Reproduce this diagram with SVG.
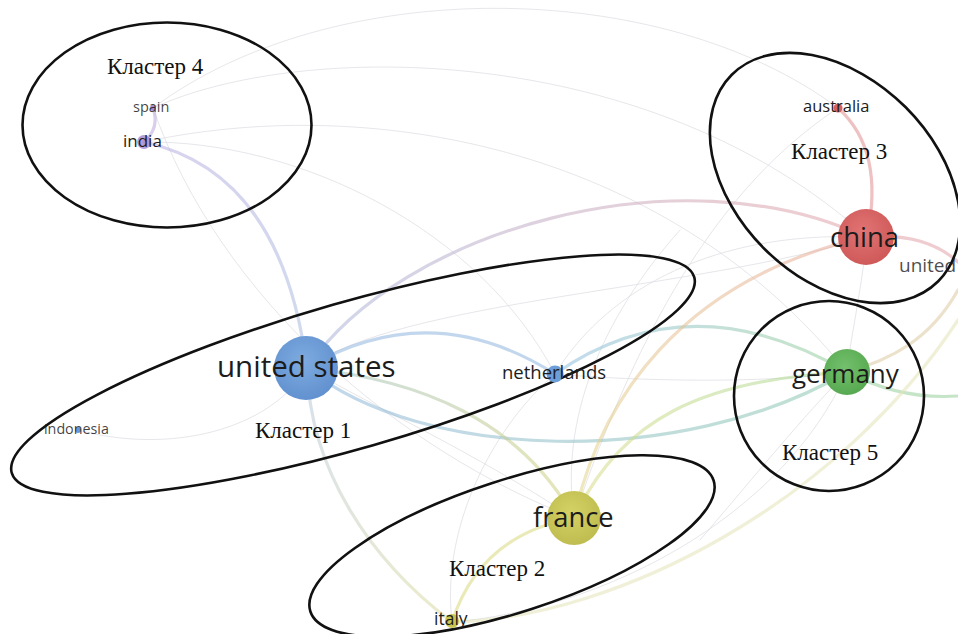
<svg xmlns="http://www.w3.org/2000/svg" width="958" height="634" viewBox="0 0 958 634">
<style>
.bg{fill:#ffffff}
.cl{fill:none;stroke:#111;stroke-width:2.6}
.ct{font-family:"Liberation Serif","Times New Roman",serif;font-size:23px;fill:#111}
.lb{font-family:"Open Sans","Liberation Sans",sans-serif;fill:#1c1c1c}
.e{fill:none;stroke-linecap:round}
.f{stroke:#d8d8e0;stroke-width:1;opacity:0.65}
.t{stroke-width:3.2;opacity:0.55}
</style>
<defs>
<linearGradient id="gUsCn" gradientUnits="userSpaceOnUse" x1="307" y1="368" x2="865" y2="237">
<stop offset="0" stop-color="#a9b4dc"/><stop offset="1" stop-color="#e2a3a8"/>
</linearGradient>
<linearGradient id="gUsDe" gradientUnits="userSpaceOnUse" x1="307" y1="368" x2="847" y2="372">
<stop offset="0" stop-color="#8fb6dc"/><stop offset="1" stop-color="#8cc7ae"/>
</linearGradient>
<linearGradient id="gNlDe" gradientUnits="userSpaceOnUse" x1="555" y1="374" x2="847" y2="372">
<stop offset="0" stop-color="#8fbde0"/><stop offset="1" stop-color="#98cf9a"/>
</linearGradient>
<linearGradient id="gUsFr" gradientUnits="userSpaceOnUse" x1="307" y1="368" x2="574" y2="518">
<stop offset="0" stop-color="#9fc0c0"/><stop offset="1" stop-color="#d3d27a"/>
</linearGradient>
<linearGradient id="gFrCn" gradientUnits="userSpaceOnUse" x1="574" y1="518" x2="865" y2="237">
<stop offset="0" stop-color="#e2d889"/><stop offset="1" stop-color="#e8a99a"/>
</linearGradient>
<linearGradient id="gFrDe" gradientUnits="userSpaceOnUse" x1="574" y1="518" x2="847" y2="372">
<stop offset="0" stop-color="#dcdc86"/><stop offset="1" stop-color="#a8d895"/>
</linearGradient>
<linearGradient id="gInUs" gradientUnits="userSpaceOnUse" x1="144" y1="142" x2="307" y2="368">
<stop offset="0" stop-color="#b8aee0"/><stop offset="1" stop-color="#a9bde0"/>
</linearGradient>
<linearGradient id="gUsIt" gradientUnits="userSpaceOnUse" x1="307" y1="368" x2="452" y2="622">
<stop offset="0" stop-color="#b5c7e0"/><stop offset="1" stop-color="#dcdca0"/>
</linearGradient>
<radialGradient id="nUs" cx="0.45" cy="0.4" r="0.6"><stop offset="0" stop-color="#7eabe0"/><stop offset="1" stop-color="#6191cf"/></radialGradient>
<radialGradient id="nCn" cx="0.45" cy="0.4" r="0.6"><stop offset="0" stop-color="#e27474"/><stop offset="1" stop-color="#cf5959"/></radialGradient>
<radialGradient id="nFr" cx="0.45" cy="0.4" r="0.6"><stop offset="0" stop-color="#d4d265"/><stop offset="1" stop-color="#bfbd4f"/></radialGradient>
<radialGradient id="nDe" cx="0.45" cy="0.4" r="0.6"><stop offset="0" stop-color="#74c06c"/><stop offset="1" stop-color="#57a951"/></radialGradient>
</defs>
<rect class="bg" x="0" y="0" width="958" height="634"/>

<g id="connectors">
  <!-- faint edges -->
  <path class="e f" d="M153,108 C330,-25 660,-25 838,108"/>
  <path class="e f" d="M153,108 C300,40 650,40 867,237"/>
  <path class="e f" d="M144,142 C360,95 660,140 847,372"/>
  <path class="e f" d="M144,142 C300,140 480,230 555,374"/>
  <path class="e f" d="M153,108 C220,300 400,450 574,518"/>
  <path class="e f" d="M78,430 C170,455 270,430 307,368"/>
  <path class="e f" d="M555,374 C600,300 700,230 867,237"/>
  <path class="e f" d="M307,368 C400,300 700,290 867,237"/>
  <path class="e f" d="M574,518 C560,420 600,320 680,230"/>
  <path class="e f" d="M452,622 C440,520 500,420 555,374"/>
  <path class="e f" d="M452,622 C600,610 780,520 847,372"/>
  <path class="e f" d="M838,108 C760,160 660,260 574,518"/>
  <path class="e f" d="M867,237 C860,300 850,340 847,372"/>
  <path class="e f" d="M307,368 C380,410 470,450 574,518"/>
  <path class="e f" d="M555,374 C620,380 760,385 847,372"/>
  <path class="e f" d="M847,372 C800,420 760,470 700,540"/>
  <!-- strong edges -->
  <path class="e t" stroke="url(#gInUs)" d="M144,142 Q282,172 307,368"/>
  <path class="e t" stroke="#b9a7dc" stroke-width="2" d="M153,108 Q160,128 144,142"/>
  <path class="e t" stroke="url(#gUsCn)" stroke-width="3.6" d="M307,368 C400,230 680,150 865,237"/>
  <path class="e t" stroke="#8fb6df" d="M307,368 Q430,295 555,374"/>
  <path class="e t" stroke="url(#gUsDe)" d="M307,368 C420,460 680,470 847,372"/>
  <path class="e t" stroke="url(#gNlDe)" d="M555,374 Q690,280 847,372"/>
  <path class="e t" stroke="url(#gUsFr)" d="M307,368 C420,380 520,420 574,518"/>
  <path class="e t" stroke="url(#gFrCn)" d="M574,518 C600,400 680,280 865,237"/>
  <path class="e t" stroke="url(#gFrDe)" d="M574,518 C620,420 700,380 847,372"/>
  <path class="e t" stroke="#d9d880" d="M574,518 Q480,535 452,622"/>
  <path class="e t" stroke="url(#gUsIt)" stroke-width="2" d="M307,368 C310,470 370,560 452,622"/>
  <path class="e t" stroke="#e08f8f" d="M838,108 Q885,150 867,237"/>
  <path class="e t" stroke="#e2a3a8" d="M867,237 Q925,232 958,262"/>
  <path class="e t" stroke="#98cf9a" stroke-width="2.4" d="M847,372 Q900,400 958,396"/>
  <path class="e t" stroke="#ddc9a0" stroke-width="2.4" d="M958,290 C930,340 890,360 847,372"/>
  <path class="e t" stroke="#e4e4b8" stroke-width="1.4" d="M452,622 C620,618 840,500 958,320"/>
</g>

<g id="cluster4">
  <ellipse class="cl" cx="167" cy="125" rx="144.5" ry="102.5"/>
  <text class="ct" x="107" y="74">Кластер 4</text>
</g>
<g id="cluster3">
  <ellipse class="cl" cx="835" cy="178" rx="146" ry="100" transform="rotate(45 835 178)"/>
  <text class="ct" x="791" y="159">Кластер 3</text>
</g>
<g id="cluster1">
  <ellipse class="cl" cx="353" cy="375" rx="355" ry="73" transform="rotate(-16 353 375)"/>
  <text class="ct" x="255" y="438">Кластер 1</text>
</g>
<g id="cluster2">
  <ellipse class="cl" cx="512" cy="546" rx="212" ry="66" transform="rotate(-18 512 546)"/>
  <text class="ct" x="449" y="576">Кластер 2</text>
</g>
<g id="cluster5">
  <circle class="cl" cx="829" cy="396" r="95"/>
  <text class="ct" x="782" y="460">Кластер 5</text>
</g>

<g id="node-india">
  <circle cx="144" cy="142" r="7" fill="#a98cd4" opacity="0.85"/>
  <text class="lb" x="123" y="147" font-size="17">india</text>
</g>
<g id="node-spain">
  <circle cx="153" cy="108" r="3" fill="#a98cd4"/>
  <text class="lb" x="133" y="112" font-size="14.5" fill-opacity="0.85">spain</text>
</g>
<g id="node-australia">
  <circle cx="838" cy="108" r="4.5" fill="#d95f5f"/>
  <text class="lb" x="803" y="112" font-size="16.5">australia</text>
</g>
<g id="node-china">
  <circle cx="866" cy="237" r="28" fill="url(#nCn)"/>
  <text class="lb" x="830" y="247" font-size="27.5">china</text>
</g>
<g id="node-united-kingdom">
  <text class="lb" x="899" y="272" font-size="19" fill-opacity="0.8">united</text>
</g>
<g id="node-united-states">
  <circle cx="306" cy="368" r="32" fill="url(#nUs)"/>
  <text class="lb" x="217" y="377" font-size="29.5">united states</text>
</g>
<g id="node-indonesia">
  <circle cx="78" cy="430" r="3" fill="#6699d6"/>
  <text class="lb" x="44" y="434" font-size="14.3" fill-opacity="0.85">indonesia</text>
</g>
<g id="node-netherlands">
  <circle cx="555" cy="374" r="8.5" fill="#6c9fd9"/>
  <text class="lb" x="502" y="379" font-size="18.5">netherlands</text>
</g>
<g id="node-france">
  <circle cx="574" cy="518" r="27" fill="url(#nFr)"/>
  <text class="lb" x="533" y="527" font-size="27.3">france</text>
</g>
<g id="node-italy">
  <circle cx="452" cy="621" r="7" fill="#c8c650"/>
  <text class="lb" x="434" y="625" font-size="17.5">italy</text>
</g>
<g id="node-germany">
  <circle cx="847" cy="372" r="23" fill="url(#nDe)"/>
  <text class="lb" x="792" y="383" font-size="26">germany</text>
</g>
</svg>
